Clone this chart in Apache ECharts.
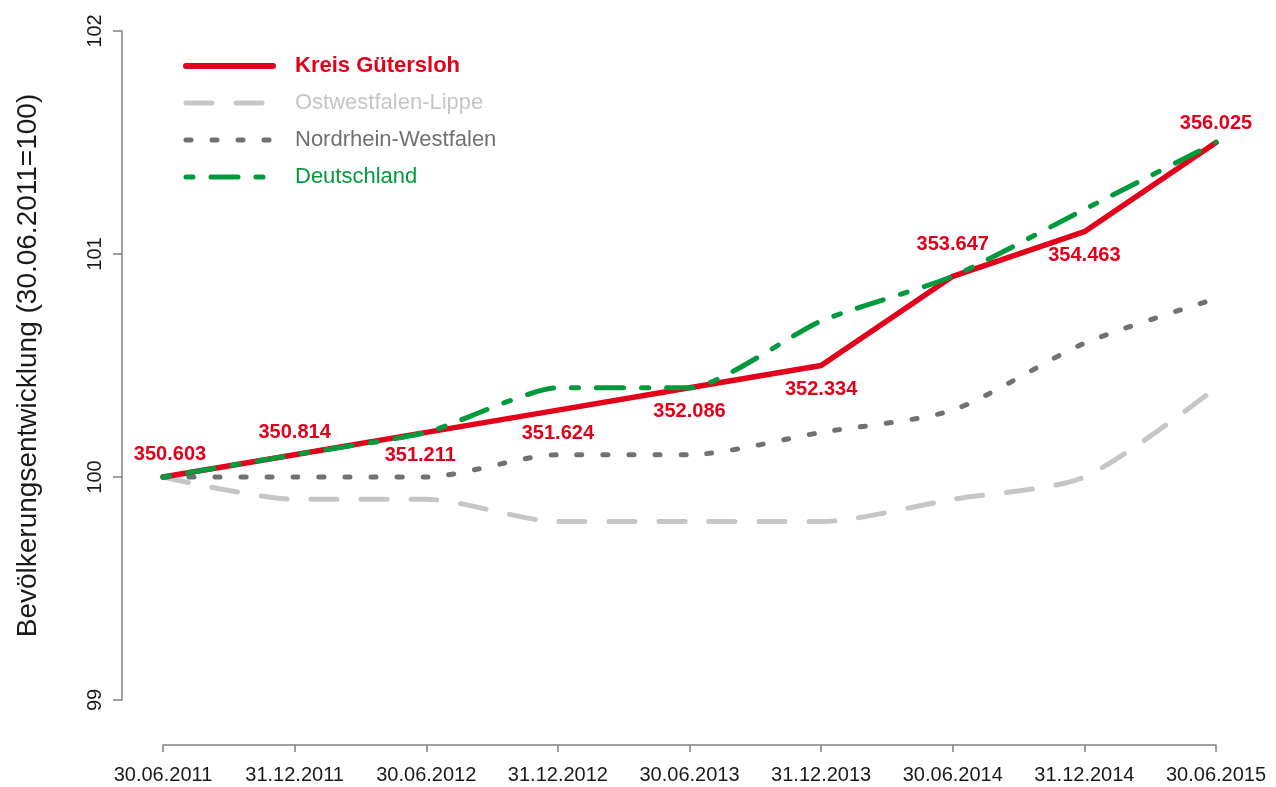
<!DOCTYPE html>
<html>
<head>
<meta charset="UTF-8">
<title>Bevölkerungsentwicklung Kreis Gütersloh</title>
<script src="https://cdn.jsdelivr.net/npm/echarts@6/dist/echarts.min.js"></script>
<style>
	html, body { margin: 0; padding: 0; background: #fff; }
	#chart { width: 1276px; height: 787px; }
</style>
</head>
<body>
<div id="chart"></div>
<script type="text/javascript">
	// Stichtage
	var dates = ['30.06.2011', '31.12.2011', '30.06.2012', '31.12.2012', '30.06.2013',
		'31.12.2013', '30.06.2014', '31.12.2014', '30.06.2015'];
	// Index (30.06.2011 = 100)
	var guetersloh = [100, 100.1, 100.2, 100.3, 100.4, 100.5, 100.9, 101.1, 101.5];
	var owl = [100, 99.9, 99.9, 99.8, 99.8, 99.8, 99.9, 100.0, 100.4];
	var nrw = [100, 100, 100, 100.1, 100.1, 100.2, 100.3, 100.6, 100.8];
	var deutschland = [100, 100.1, 100.2, 100.4, 100.4, 100.7, 100.9, 101.2, 101.5];
	// Einwohner Kreis Gütersloh (Beschriftung)
	var einwohner = ['350.603', '350.814', '351.211', '351.624', '352.086',
		'352.334', '353.647', '354.463', '356.025'];
	var labelPos = ['top', 'top', 'bottom', 'bottom', 'bottom', 'bottom', 'top', 'bottom', 'top'];
	var yTicks = [99, 100, 101, 102];

	var rot = '#e2001a', hellgrau = '#c6c6c6', dunkelgrau = '#717171', gruen = '#009a3d';
	var font = '"Liberation Sans", Arial, sans-serif';
	var leer = 'rgba(0,0,0,0)';

	var gtData = [];
	for (var i = 0; i < guetersloh.length; i++) {
		var lbl = { position: labelPos[i], distance: labelPos[i] == 'top' ? 12 : 13 };
		if (i == 0) lbl.offset = [7, 0];
		if (i == 2) lbl.offset = [-6, 0];
		if (i == 6) lbl.distance = 21;
		if (i == 8) lbl.distance = 9;
		gtData.push({ value: guetersloh[i], label: lbl });
	}

	var myChart = echarts.init(document.getElementById('chart'));
	var option = {
		animation: false,
		textStyle: { fontFamily: font },
		grid: { left: 163, right: 60, top: 31, bottom: 87, containLabel: false },
		legend: {
			orient: 'vertical',
			left: 178,
			top: 50,
			itemWidth: 87,
			itemHeight: 22,
			itemGap: 15,
			selectedMode: false,
			itemStyle: { opacity: 0 },
			lineStyle: { width: 5 },
			textStyle: { fontSize: 22, fontFamily: font, padding: [0, 0, 0, 17] },
			data: [
				{ name: 'Kreis Gütersloh', textStyle: { color: rot, fontWeight: 'bold' }, lineStyle: { width: 6 } },
				{ name: 'Ostwestfalen-Lippe', textStyle: { color: hellgrau } },
				{ name: 'Nordrhein-Westfalen', textStyle: { color: dunkelgrau } },
				{ name: 'Deutschland', textStyle: { color: gruen } }
			]
		},
		xAxis: {
			type: 'category',
			data: dates,
			boundaryGap: false,
			offset: 45,
			axisLine: { lineStyle: { color: '#808080', width: 1.5 } },
			axisTick: { length: 7, lineStyle: { color: '#808080', width: 1.5 } },
			axisLabel: { color: '#1a1a1a', fontSize: 20, margin: 20, fontFamily: font },
			splitLine: { show: false }
		},
		yAxis: {
			type: 'value',
			min: yTicks[0],
			max: yTicks[yTicks.length - 1],
			interval: 1,
			offset: 41,
			name: 'Bevölkerungsentwicklung (30.06.2011=100)',
			nameLocation: 'middle',
			nameRotate: 90,
			nameGap: 80,
			nameTextStyle: { fontSize: 28, color: '#1a1a1a', fontFamily: font },
			axisLine: { show: true, lineStyle: { color: '#808080', width: 1.5 } },
			axisTick: { show: true, length: 9, lineStyle: { color: '#808080', width: 1.5 } },
			axisLabel: { rotate: 90, color: '#1a1a1a', fontSize: 20, margin: 17, fontFamily: font },
			splitLine: { show: false }
		},
		series: [{
			name: 'Ostwestfalen-Lippe',
			type: 'line',
			data: owl,
			symbol: 'none',
			smooth: 0.25,
			z: 2,
			lineStyle: { color: hellgrau, width: 5, type: [26, 24], cap: 'round' },
			itemStyle: { color: hellgrau }
		}, {
			name: 'Nordrhein-Westfalen',
			type: 'line',
			data: nrw,
			symbol: 'none',
			smooth: 0.25,
			z: 3,
			lineStyle: { color: dunkelgrau, width: 5, type: [5, 21], cap: 'round' },
			itemStyle: { color: dunkelgrau }
		}, {
			name: 'Kreis Gütersloh',
			type: 'line',
			data: gtData,
			symbol: 'circle',
			symbolSize: 1,
			showSymbol: true,
			z: 4,
			lineStyle: { color: rot, width: 5.5, cap: 'round', join: 'round' },
			itemStyle: { color: leer },
			label: {
				show: true,
				color: rot,
				fontSize: 20,
				fontWeight: 'bold',
				fontFamily: font,
				formatter: function (p) { return einwohner[p.dataIndex]; }
			}
		}, {
			name: 'Deutschland',
			type: 'line',
			data: deutschland,
			symbol: 'none',
			smooth: 0.2,
			z: 5,
			lineStyle: { color: gruen, width: 5, type: [7, 18, 27, 18], cap: 'round' },
			itemStyle: { color: gruen }
		}]
	};
	myChart.setOption(option);
</script>
</body>
</html>
